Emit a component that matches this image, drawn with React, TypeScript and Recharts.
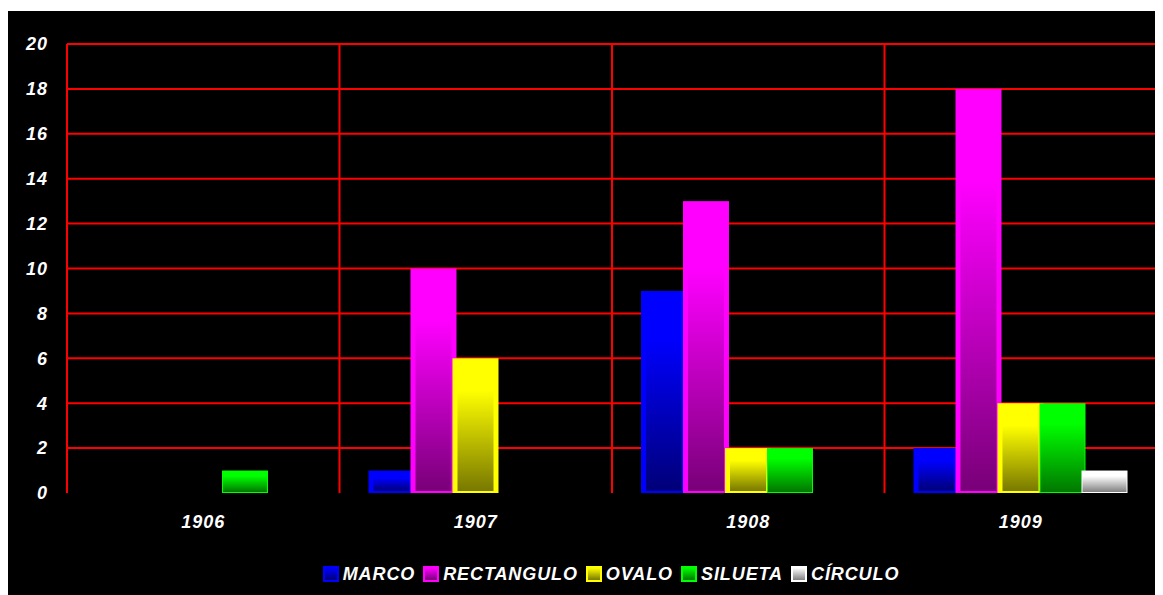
import { BarChart, Bar, XAxis, YAxis, CartesianGrid, Legend } from 'recharts'

const years = ['1906', '1907', '1908', '1909']
const marco = [0, 1, 9, 2]
const rectangulo = [0, 10, 13, 18]
const ovalo = [0, 6, 2, 4]
const silueta = [1, 0, 2, 4]
const circulo = [0, 0, 0, 1]
const yTicks = [0, 2, 4, 6, 8, 10, 12, 14, 16, 18, 20]

const series = [
  { key: 'marco', name: 'MARCO', bright: '#0000ff', dark: '#000078', edge: 5 },
  { key: 'rectangulo', name: 'RECTANGULO', bright: '#ff00ff', dark: '#780078', edge: 5 },
  { key: 'ovalo', name: 'OVALO', bright: '#ffff00', dark: '#787800', edge: 5 },
  { key: 'silueta', name: 'SILUETA', bright: '#00ff00', dark: '#007800', edge: 1 },
  { key: 'circulo', name: 'CÍRCULO', bright: '#ffffff', dark: '#808080', edge: 1 },
]

const datos = years.map((anio, i) => ({
  anio,
  marco: marco[i],
  rectangulo: rectangulo[i],
  ovalo: ovalo[i],
  silueta: silueta[i],
  circulo: circulo[i],
}))

const fuente = '"Liberation Sans", Arial, sans-serif'

const tickStyle = {
  fill: '#fff',
  fontSize: 18,
  fontWeight: 'bold',
  fontStyle: 'italic',
  fontFamily: fuente,
  letterSpacing: 1,
}

function barraBisel(s: (typeof series)[number]) {
  return (props: any) => {
    const { x, y, width, height } = props
    if (!height || height <= 0) return <g />
    const e = s.edge
    const top = e > 1 ? 4 : 1
    const bottom = e > 1 ? 2 : 1
    return (
      <g>
        <rect x={x} y={y} width={width} height={height} fill={s.bright} />
        <rect
          x={x + e}
          y={y + top}
          width={Math.max(0, width - 2 * e)}
          height={Math.max(0, height - top - bottom)}
          fill={`url(#grad-${s.key})`}
        />
      </g>
    )
  }
}

function LeyendaPropia() {
  return (
    <div
      style={{
        display: 'flex',
        justifyContent: 'center',
        alignItems: 'center',
        fontFamily: fuente,
        fontSize: 18,
        fontWeight: 'bold',
        fontStyle: 'italic',
        color: '#fff',
        letterSpacing: 0.9,
        lineHeight: '22px',
      }}
    >
      {series.map((s) => (
        <div key={s.key} style={{ display: 'flex', alignItems: 'center', marginRight: 8 }}>
          <span
            style={{
              display: 'inline-block',
              width: 12,
              height: 12,
              border: `2px solid ${s.bright}`,
              background: `linear-gradient(${s.bright}, ${s.dark})`,
              marginRight: 4,
            }}
          />
          <span>{s.name}</span>
        </div>
      ))}
    </div>
  )
}

export default function App() {
  return (
    <div style={{ width: 1155, height: 584, marginTop: 3, background: '#000' }}>
      <BarChart
        width={1155}
        height={584}
        data={datos}
        margin={{ top: 33, right: 6, left: 0, bottom: 0 }}
        barSize={46}
        barGap={-4}
      >
        <defs>
          {series.map((s) => (
            <linearGradient key={s.key} id={`grad-${s.key}`} x1="0" y1="0" x2="0" y2="1">
              <stop offset="0%" stopColor={s.bright} />
              <stop offset="22%" stopColor={s.bright} />
              <stop offset="100%" stopColor={s.dark} />
            </linearGradient>
          ))}
        </defs>
        <CartesianGrid
          stroke="#ff0000"
          strokeWidth={2}
          verticalCoordinatesGenerator={({ offset }: any) =>
            [0, 1, 2, 3, 4].map((i) => offset.left + (i * offset.width) / years.length)
          }
          horizontalCoordinatesGenerator={({ offset }: any) =>
            yTicks.filter((t) => t > 0).map((t) => offset.top + offset.height * (1 - t / 20))
          }
        />
        <XAxis
          dataKey="anio"
          axisLine={false}
          tickLine={false}
          tickSize={0}
          tickMargin={22}
          height={62}
          tick={tickStyle}
        />
        <YAxis
          domain={[0, 20]}
          ticks={yTicks}
          axisLine={false}
          tickLine={false}
          tickSize={0}
          tickMargin={19}
          width={59}
          tick={tickStyle}
          interval={0}
        />
        <Legend
          height={40}
          content={<LeyendaPropia />}
          wrapperStyle={{ left: 62, width: 1090, top: 552, bottom: 'auto' }}
        />
        {series.map((s) => (
          <Bar
            key={s.key}
            dataKey={s.key}
            name={s.name}
            fill={s.bright}
            shape={barraBisel(s)}
            isAnimationActive={false}
          />
        ))}
      </BarChart>
    </div>
  )
}
